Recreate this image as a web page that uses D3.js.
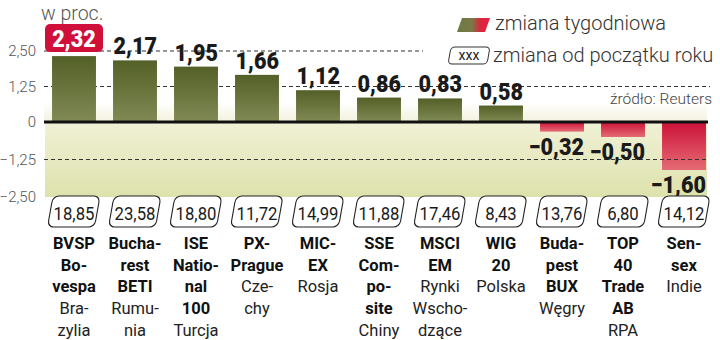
<!DOCTYPE html>
<html><head><meta charset="utf-8">
<script src="https://cdn.jsdelivr.net/npm/d3@7"></script>
<style>
body{margin:0;background:#fff;}
text{font-family:Roboto,"Noto Sans",sans-serif;}
</style></head>
<body><svg id="c" width="720" height="340"></svg>
<script>
const indexNames = [["BVSP","Bo-","vespa"],["Bucha-","rest","BETI"],["ISE","Natio-","nal","100"],["PX-","Prague"],["MIC-","EX"],["SSE","Com-","po-","site"],["MSCI","EM"],["WIG","20"],["Buda-","pest","BUX"],["TOP","40","Trade","AB"],["Sen-","sex"]];
const countryNames = [["Bra-","zylia"],["Rumu-","nia"],["Turcja"],["Cze-","chy"],["Rosja"],["Chiny"],["Rynki","Wscho-","dzące"],["Polska"],["Węgry"],["RPA"],["Indie"]];
const weeklyChange = [2.32,2.17,1.95,1.66,1.12,0.86,0.83,0.58,-0.32,-0.50,-1.60];
const ytdChange = [18.85,23.58,18.80,11.72,14.99,11.88,17.46,8.43,13.76,6.80,14.12];
const yTicks = [2.5,1.25,0,-1.25,-2.5];
const unitLabel = "w proc.";
const legendWeekly = "zmiana tygodniowa";
const legendYtd = "zmiana od początku roku";
const sourceText = "źródło: Reuters";

const svg = d3.select("#c");
const fmt = v => d3.format(".2f")(v).replace(".", ",");
const ids = indexNames.map((d,i)=>i);

const x = d3.scaleBand().domain(ids).range([43.5,714.5]).paddingInner(0.28).paddingOuter(0.14);
const y = d3.scaleLinear().domain([-2.5,0,2.5]).range([197,122,51]);
const plotL = 44, plotR = 707;

const defs = svg.append("defs");
function lg(id, stops, horiz){
  const g = defs.append("linearGradient").attr("id",id)
    .attr("x1",0).attr("y1",0).attr("x2",horiz?1:0).attr("y2",horiz?0:1);
  stops.forEach(s=>g.append("stop").attr("offset",s[0]).attr("stop-color",s[1]));
}
lg("bgTop",[[0,"#ffffff"],[0.45,"#ffffff"],[1,"#f3f1dc"]]);
lg("bgBot",[[0,"#f0f1d6"],[1,"#dde2ac"]]);
lg("green",[[0,"#536027"],[1,"#818a55"]]);
lg("red",[[0,"#cd1139"],[1,"#e56b74"]]);
lg("legendG",[[0,"#6a7a44"],[0.45,"#7a7a48"],[0.7,"#d8283e"],[1,"#e6203c"]],true);

svg.append("rect").attr("x",plotL).attr("width",plotR-plotL)
  .attr("y",y(1.25)).attr("height",y(0)-y(1.25)).attr("fill","url(#bgTop)");
svg.append("rect").attr("x",plotL+1).attr("width",plotR-plotL-1)
  .attr("y",y(0)).attr("height",y(-2.5)-y(0)).attr("fill","url(#bgBot)");

svg.append("g").selectAll("text").data(yTicks).join("text")
  .attr("x",36).attr("y",d=>y(d)+5).attr("text-anchor","end")
  .attr("font-size",15).attr("fill","#555").attr("font-weight",300)
  .text(d=> d===0 ? "0" : fmt(d));

svg.append("text").attr("x",41).attr("y",20).attr("font-size",19.5).attr("fill","#555").attr("font-weight",300).text(unitLabel);

const grid = [[2.5,423],[1.25,710]];
svg.append("g").selectAll("line").data(grid).join("line")
  .attr("x1",plotL).attr("x2",d=>d[1]).attr("y1",d=>y(d[0])).attr("y2",d=>y(d[0]))
  .attr("stroke","#333").attr("stroke-width",1.2).attr("stroke-dasharray","4,3");

svg.append("g").selectAll("rect").data(weeklyChange).join("rect")
  .attr("x",(d,i)=>x(i)).attr("width",x.bandwidth())
  .attr("y",d=>y(Math.max(0,d))).attr("height",d=>Math.abs(y(d)-y(0)))
  .attr("fill",d=>d>=0?"url(#green)":"url(#red)");

svg.append("line").attr("x1",plotL).attr("x2",707).attr("y1",y(-1.25)).attr("y2",y(-1.25))
  .attr("stroke","#333").attr("stroke-width",1.2).attr("stroke-dasharray","4,3");

svg.append("line").attr("x1",plotL).attr("x2",708).attr("y1",y(0)).attr("y2",y(0))
  .attr("stroke","#111").attr("stroke-width",3);

const maxI = weeklyChange.indexOf(d3.max(weeklyChange));
const vl = svg.append("g");
weeklyChange.forEach((d,i)=>{
  const right = x(i)+x.bandwidth();
  if(i===maxI){
    const cx = x(i)+x.bandwidth()/2;
    vl.append("rect").attr("x",cx-29).attr("y",y(d)-32).attr("width",58).attr("height",28)
      .attr("rx",5).attr("fill","#d0103a");
    vl.append("text").attr("transform",`translate(${cx},${y(d)-9}) scale(0.9,1)`)
      .attr("text-anchor","middle").attr("font-size",24).attr("font-weight",900).attr("fill","#fff").text(fmt(d));
  } else {
    const ty = d>=0 ? y(d)-6 : y(d)+23;
    vl.append("text").attr("transform",`translate(${right},${ty}) scale(0.9,1)`)
      .attr("text-anchor","end").attr("font-size",24).attr("font-weight",900).attr("fill","#1a1a1a").text(fmt(d));
  }
});

const bx = svg.append("g");
ytdChange.forEach((d,i)=>{
  const cx = x(i)+x.bandwidth()/2;
  const g = bx.append("g").attr("transform",`translate(${cx},196)`);
  g.append("rect").attr("x",-21).attr("y",0).attr("width",47).attr("height",31).attr("rx",6)
    .attr("transform","skewX(-10)").attr("fill","#fff").attr("stroke","#222").attr("stroke-width",1.1);
  g.append("text").attr("transform","translate(0,24) scale(0.88,1)").attr("text-anchor","middle")
    .attr("font-size",19).attr("fill","#1a1a1a").text(fmt(d));
});

const cl = svg.append("g");
indexNames.forEach((lines,i)=>{
  const cx = x(i)+x.bandwidth()/2;
  const all = lines.map(t=>[t,true]).concat(countryNames[i].map(t=>[t,false]));
  all.forEach((l,k)=>{
    cl.append("text").attr("x",cx).attr("y",249+k*21.7).attr("text-anchor","middle")
      .attr("font-size",16.5).attr("font-weight",l[1]?700:400).attr("fill",l[1]?"#111":"#222").text(l[0]);
  });
});

const lgd = svg.append("g");
lgd.append("path").attr("d","M462,18 L490,18 L485,32 L457,32 Z").attr("fill","url(#legendG)");
lgd.append("text").attr("x",495).attr("y",30).attr("font-size",20).attr("fill","#333").attr("font-weight",300).text(legendWeekly);
const xb = lgd.append("g").attr("transform","translate(469,47)");
xb.append("rect").attr("x",-18).attr("y",0).attr("width",39).attr("height",17).attr("rx",4)
  .attr("transform","skewX(-10)").attr("fill","#fff").attr("stroke","#333").attr("stroke-width",1);
xb.append("text").attr("x",0).attr("y",13).attr("text-anchor","middle").attr("font-size",14).attr("fill","#222").text("xxx");
lgd.append("text").attr("x",493).attr("y",62).attr("font-size",20).attr("fill","#333").attr("font-weight",300).text(legendYtd);
svg.append("text").attr("x",712).attr("y",104).attr("text-anchor","end").attr("font-size",15.5).attr("fill","#444").attr("font-weight",300).text(sourceText);
</script></body></html>
